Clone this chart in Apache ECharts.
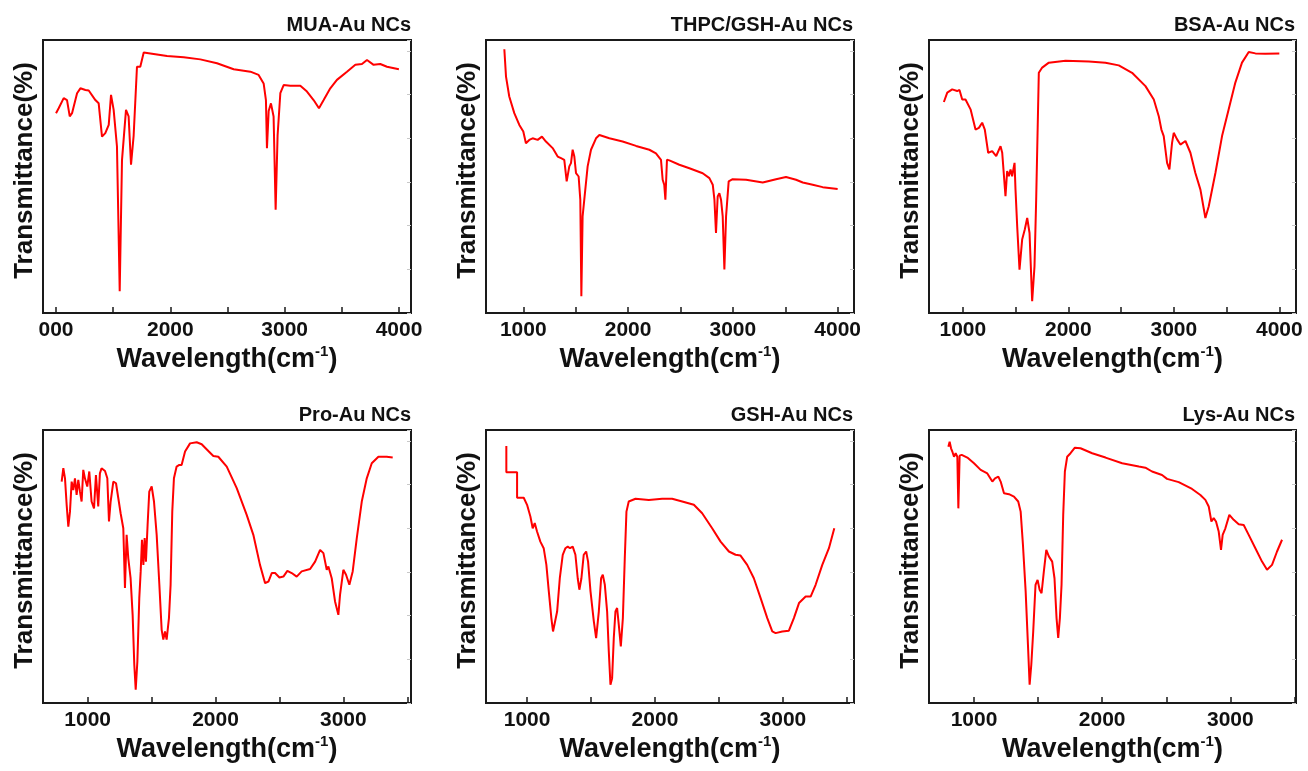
<!DOCTYPE html>
<html>
<head>
<meta charset="utf-8">
<script src="https://cdn.jsdelivr.net/npm/echarts@6.0.0/dist/echarts.min.js"></script>
<style>
html, body {margin:0; padding:0; background:#fff;}
#main {width:1308px; height:771px;}
</style>
</head>
<body>
<div id="main"></div>
<script>
// спектры: [волновое число, пропускание]
const muaAu = [[1000,73.2],[1023,75],[1067,78.7],[1096,78],[1120,72],[1140,73.2],[1184,80.5],[1213,82.3],[1257,81.7],[1286,81.5],[1344,78],[1373,76.8],[1402,64.6],[1431,65.9],[1461,68.9],[1481,79.9],[1504,74.4],[1533,61],[1557,8],[1577,56],[1612,74.4],[1635,72],[1656,54.3],[1679,65],[1708,90.2],[1723,90.8],[1737,90.2],[1767,95.4],[1854,94.9],[1971,94.1],[2117,93.7],[2262,92.9],[2277,93.3],[2408,91.5],[2554,89.3],[2700,88.4],[2772,87.2],[2816,84.1],[2836,78],[2845,60.4],[2860,74],[2880,76.8],[2903,72],[2921,37.8],[2938,65],[2962,80.5],[2991,83.5],[3049,83.2],[3137,83.2],[3195,81.1],[3253,78],[3300,75],[3341,78],[3399,82.3],[3457,85.4],[3545,88.4],[3618,90.9],[3676,91.2],[3720,92.7],[3778,90.9],[3836,91.2],[3895,90.2],[3999,89.3]];

const thpcGshAu = [[819,96.6],[835,86.6],[866,79.3],[914,73.2],[962,68.9],[1000,66.5],[1025,62.2],[1057,63.4],[1089,64],[1137,63.4],[1178,64.6],[1216,62.8],[1280,60.4],[1328,57.3],[1360,56.7],[1391,56.1],[1414,48.2],[1439,53.7],[1455,54.9],[1471,59.8],[1487,57.3],[1503,51.2],[1528,50],[1544,41.5],[1554,6.1],[1566,35.4],[1582,41.5],[1614,53.7],[1646,59.8],[1694,64],[1726,65.2],[1821,64],[1948,62.8],[2076,61.2],[2203,59.8],[2266,58.5],[2314,56.1],[2330,48.8],[2345,47],[2356,41.5],[2371,56.1],[2394,55.9],[2489,54.3],[2585,53],[2712,51.2],[2776,49.4],[2808,47],[2824,41.5],[2839,29.3],[2855,42.7],[2871,43.9],[2887,41.5],[2903,35.4],[2919,15.9],[2935,35.4],[2960,48.2],[2998,49],[3126,48.8],[3285,47.8],[3412,49],[3507,49.8],[3603,48.8],[3667,47.8],[3762,47],[3857,46.1],[4000,45.4]];

const bsaAu = [[820,77.3],[852,80.7],[899,81.9],[946,81.3],[968,81.7],[994,78.2],[1025,78.2],[1073,74.6],[1120,67.2],[1152,67.8],[1183,69.7],[1208,67.2],[1240,58.7],[1278,59.3],[1316,57.5],[1357,61.1],[1373,58.7],[1404,42.8],[1420,52],[1436,50.1],[1452,52.6],[1467,50.1],[1490,55],[1499,45.2],[1515,31.8],[1537,15.9],[1562,26.9],[1587,30.6],[1610,34.8],[1632,29.3],[1657,4.3],[1679,17.1],[1695,41.6],[1720,88],[1752,89.9],[1815,91.7],[1973,92.4],[2194,92.1],[2352,91.7],[2478,90.7],[2604,88],[2731,83.1],[2810,78.2],[2857,72.1],[2882,67.2],[2904,64.8],[2936,55],[2958,52.6],[2983,62.3],[2999,66],[3031,63.6],[3062,61.7],[3110,63],[3157,58.7],[3204,51.3],[3252,45.2],[3299,34.8],[3331,39.1],[3394,51.3],[3457,64.8],[3520,74.6],[3583,84.4],[3646,91.7],[3710,95.6],[3773,95.1],[3867,95],[4000,95.1]];

const proAu = [[797,81.1],[810,86],[823,82.3],[836,72.6],[849,64.6],[862,70.1],[875,81.1],[888,78],[901,82.3],[914,76.2],[927,81.7],[940,77.4],[953,73.8],[966,85.4],[979,82.3],[997,79.3],[1013,84.8],[1031,73.8],[1050,71.3],[1065,83.5],[1083,72],[1096,84.1],[1109,86],[1136,85],[1154,82.3],[1167,66.5],[1180,73.8],[1201,81.1],[1222,80.5],[1240,75],[1258,69.5],[1279,64],[1292,42.1],[1305,61.6],[1318,53],[1336,45.7],[1352,32.3],[1365,14],[1376,4.9],[1389,15.2],[1404,38.4],[1415,48.2],[1425,59.8],[1436,50.6],[1446,60.4],[1456,51.8],[1469,65.2],[1482,77.4],[1501,79.3],[1519,73.8],[1540,61.6],[1561,43.3],[1579,26.8],[1592,23.2],[1605,26.2],[1618,23.2],[1636,31.1],[1649,43.3],[1662,70.1],[1675,82.3],[1696,86.6],[1717,87.2],[1735,87.2],[1762,92.1],[1801,95.1],[1853,95.5],[1892,94.8],[1944,92.3],[1983,90.5],[2022,90.2],[2088,86.6],[2166,78.7],[2244,68.9],[2296,61.6],[2348,50.6],[2388,43.9],[2414,44.5],[2440,47.6],[2466,47.6],[2500,46],[2531,46.3],[2562,48.4],[2596,47.6],[2635,46.3],[2674,48.2],[2740,49.1],[2779,51.8],[2818,56.1],[2844,54.9],[2870,48.8],[2883,50],[2909,45.7],[2935,37.2],[2948,37.8],[2961,32.3],[2974,39.6],[3000,48.8],[3021,47],[3047,43.3],[3073,48.2],[3105,60.4],[3144,73.8],[3183,82.3],[3222,87.8],[3274,90.2],[3339,90.2],[3386,89.9]];

const gshAu = [[838,94.1],[838,84.5],[922,84.5],[922,75.2],[974,75.2],[1000,72.6],[1026,68.3],[1044,64],[1060,65.9],[1078,62.8],[1104,59.1],[1130,56.7],[1151,50.6],[1170,40.9],[1190,31.1],[1203,26.2],[1216,26.8],[1235,33.5],[1256,45.7],[1279,54.3],[1300,56.7],[1318,57.3],[1336,56.7],[1357,57.3],[1378,54.3],[1396,45.7],[1409,41.5],[1425,45.7],[1443,54.3],[1462,55.5],[1477,51.8],[1496,40.9],[1522,29.9],[1540,23.8],[1561,33.5],[1579,45.7],[1592,47],[1608,43.3],[1626,33.5],[1639,18.9],[1652,6.7],[1665,9.1],[1678,23.8],[1691,33.5],[1704,34.8],[1717,28.7],[1733,20.7],[1749,31.1],[1764,53],[1777,70.1],[1795,73.8],[1848,74.8],[1952,74.4],[2056,74.8],[2134,74.8],[2213,73.8],[2304,72.6],[2369,69.5],[2447,64],[2513,59.1],[2578,55.5],[2630,54.3],[2669,54],[2721,50.6],[2773,45.7],[2826,38.4],[2878,31.1],[2917,26.2],[2943,25.6],[2995,26.2],[3047,26.5],[3086,31.1],[3126,36.6],[3178,39],[3217,39],[3256,43.3],[3308,50.6],[3360,56.7],[3402,64]];

const lysAu = [[800,93.9],[810,95.7],[821,93.3],[831,92.1],[844,90.2],[857,91.5],[870,90.2],[878,71.3],[888,90.6],[904,90.9],[948,89.9],[1000,87.8],[1052,85.4],[1104,84.1],[1143,81.1],[1164,82.3],[1190,82.9],[1208,81.1],[1234,76.8],[1273,76.5],[1312,75.6],[1345,73.8],[1364,70.1],[1382,57.9],[1403,40.9],[1421,21.3],[1434,6.7],[1447,14],[1462,26.2],[1480,43.3],[1496,45.1],[1512,41.5],[1527,40.2],[1545,48.2],[1564,56.1],[1584,53.7],[1610,51.8],[1628,45.7],[1644,31.1],[1657,23.8],[1670,31.1],[1683,43.3],[1696,68.9],[1709,84.8],[1727,90.2],[1753,91.5],[1787,93.5],[1831,93.3],[1922,91.5],[2026,89.9],[2156,87.8],[2286,86.6],[2337,86.2],[2389,84.8],[2467,83.5],[2506,82.1],[2597,80.9],[2701,78.4],[2766,76.2],[2805,74.4],[2831,72],[2852,66.5],[2870,67.7],[2888,66.5],[2909,62.8],[2927,56.1],[2940,61.6],[2961,64],[2992,68.9],[3026,67.1],[3065,65.5],[3104,65.2],[3143,61.6],[3195,56.7],[3247,51.8],[3286,48.8],[3325,50.6],[3364,55.5],[3403,59.8]];

// подписи панелей и шкал
const titles = ['MUA-Au NCs', 'THPC/GSH-Au NCs', 'BSA-Au NCs', 'Pro-Au NCs', 'GSH-Au NCs', 'Lys-Au NCs'];
const spectra = [muaAu, thpcGshAu, bsaAu, proAu, gshAu, lysAu];
const xRanges = [[886,4105],[644,4156],[679,4158],[651,3529],[679,3556],[649,3512]];
const ticksTop = [1000,1500,2000,2500,3000,3500,4000];
const ticksBottom = [1000,1500,2000,2500,3000,3500];
const labelsTop = [1000,2000,3000,4000];
const labelsBottom = [1000,2000,3000];
// на первой панели подпись 1000 обрезана до "000"
const firstPanelLabels = {1000:'000', 2000:'2000', 3000:'3000', 4000:'4000'};

const font = "'Liberation Sans', Arial, sans-serif";
const lefts = [43, 486, 929];
const rights = [897, 454, 12];
const titleRights = [897, 455, 13];

let grids = [], xAxes = [], yAxes = [], series = [], titleList = [];

spectra.forEach((spec, i) => {
    const col = i % 3;
    const row = Math.floor(i / 3);
    grids.push({
        left: lefts[col], right: rights[col],
        top: row === 0 ? 40 : 430,
        bottom: row === 0 ? 458 : 68,
        show: true, borderColor: '#1a1a1a', borderWidth: 2,
        backgroundColor: '#fff'
    });
    titleList.push({
        text: titles[i], right: titleRights[col], top: row === 0 ? 15 : 405,
        padding: 0,
        textStyle: {fontFamily: font, fontSize: 20, fontWeight: 'bold', color: '#111'}
    });
    xAxes.push({
        type: 'value', gridIndex: i,
        min: xRanges[i][0], max: xRanges[i][1],
        splitLine: {show: false},
        axisLine: {show: false},
        axisTick: {show: true, inside: true, length: 6, customValues: row === 0 ? ticksTop : ticksBottom,
            lineStyle: {color: '#1a1a1a', width: 1.5}},
        axisLabel: {
            customValues: row === 0 ? labelsTop : labelsBottom,
            margin: 7, fontFamily: font, fontSize: 21, fontWeight: 'bold', color: '#111',
            formatter: v => i === 0 ? firstPanelLabels[v] : String(v)
        },
        name: '{a|Wavelength(cm}{s|-1}{a|)}',
        nameLocation: 'middle', nameGap: 31,
        nameTextStyle: {
            rich: {
                a: {fontFamily: font, fontSize: 27, fontWeight: 'bold', color: '#111', lineHeight: 32},
                s: {fontFamily: font, fontSize: 15, fontWeight: 'bold', color: '#111', verticalAlign: 'top', lineHeight: 32}
            }
        }
    });
    yAxes.push({
        type: 'value', gridIndex: i, min: 0, max: 100,
        position: 'left',
        splitLine: {show: false}, axisLine: {show: false},
        axisTick: {show: false}, axisLabel: {show: false},
        name: 'Transmittance(%)', nameLocation: 'middle', nameGap: 5,
        nameTextStyle: {fontFamily: font, fontSize: 26, fontWeight: 'bold', color: '#111', padding: [0, 0, 0, 12]}
    });
    // слабые засечки справа
    yAxes.push({
        type: 'value', gridIndex: i, min: 0, max: 100, interval: 16,
        position: 'right',
        splitLine: {show: false}, axisLine: {show: false}, axisLabel: {show: false},
        axisTick: {show: true, inside: true, length: 4, lineStyle: {color: '#c8c8c8', width: 1}}
    });
    series.push({
        type: 'line', xAxisIndex: i, yAxisIndex: i * 2,
        data: spec, showSymbol: false, smooth: false,
        lineStyle: {color: '#ff0000', width: 2},
        animation: false
    });
});

let chart = echarts.init(document.getElementById('main'));
chart.setOption({
    animation: false,
    title: titleList,
    grid: grids,
    xAxis: xAxes,
    yAxis: yAxes,
    series: series
});
</script>
</body>
</html>
